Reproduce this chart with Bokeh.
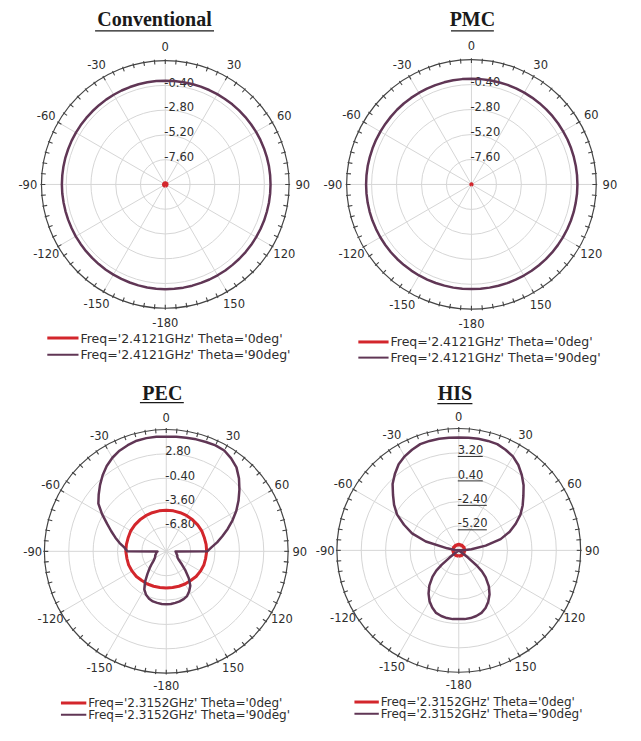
import math
from bokeh.plotting import figure
from bokeh.models import Range1d
from bokeh.embed import file_html
from bokeh.resources import INLINE
from bokeh.core.properties import value

# ---------------- data ----------------
TITLES = ["Conventional", "PMC", "PEC", "HIS"]

ANGLE_TICKS = [0, 30, 60, 90, 120, 150, 180, 210, 240, 270, 300, 330]
ANGLE_TICK_LABELS = ["0", "30", "60", "90", "120", "150", "-180", "-150", "-120", "-90", "-60", "-30"]

CONV_RINGS = ["-7.60", "-5.20", "-2.80", "-0.40"]
PMC_RINGS = ["-7.60", "-5.20", "-2.80", "-0.40"]
PEC_RINGS = ["-6.80", "-3.60", "-0.40", "2.80"]
HIS_RINGS = ["-5.20", "-2.40", "0.40", "3.20"]

CONV_LEGEND = ["Freq='2.4121GHz' Theta='0deg'", "Freq='2.4121GHz' Theta='90deg'"]
PMC_LEGEND = ["Freq='2.4121GHz' Theta='0deg'", "Freq='2.4121GHz' Theta='90deg'"]
PEC_LEGEND = ["Freq='2.3152GHz' Theta='0deg'", "Freq='2.3152GHz' Theta='90deg'"]
HIS_LEGEND = ["Freq='2.3152GHz' Theta='0deg'", "Freq='2.3152GHz' Theta='90deg'"]

# angle grids (deg, 0 = top, clockwise positive)
ANG5 = list(range(-180, 181, 5))
ANG30 = list(range(-180, 181, 30))
ANG10 = list(range(-180, 181, 10))

# Conventional, dB
CONV_DB_90 = [0.11, 0.11, 0.10, 0.09, 0.08, 0.07, 0.06, 0.05, 0.04, 0.03,
              0.03, 0.02, 0.02, 0.01, 0.01, 0.01, 0.01, 0.02, 0.02, 0.02,
              0.02, 0.02, 0.01, 0.01, 0.00, 0.00, -0.01, -0.01, -0.01, 0.00,
              0.00, 0.01, 0.01, 0.02, 0.02, 0.02, 0.02, 0.03, 0.03, 0.04,
              0.05, 0.06, 0.07, 0.08, 0.10, 0.11, 0.13, 0.14, 0.16, 0.17,
              0.18, 0.19, 0.20, 0.20, 0.20, 0.20, 0.20, 0.19, 0.19, 0.18,
              0.17, 0.17, 0.16, 0.15, 0.14, 0.14, 0.13, 0.13, 0.12, 0.12,
              0.12, 0.11, 0.11]
CONV_DB_0 = [-9.86, -9.86, -9.85, -9.85, -9.86, -9.86, -9.86, -9.86, -9.85, -9.85, -9.86, -9.86, -9.86]

# PMC, dB
PMC_DB_90 = [0.03, 0.03, 0.04, 0.04, 0.05, 0.06, 0.07, 0.08, 0.09, 0.10,
             0.11, 0.11, 0.12, 0.12, 0.13, 0.13, 0.13, 0.13, 0.13, 0.13,
             0.13, 0.12, 0.12, 0.12, 0.11, 0.11, 0.11, 0.12, 0.12, 0.12,
             0.12, 0.12, 0.13, 0.13, 0.13, 0.13, 0.13, 0.13, 0.14, 0.14,
             0.15, 0.15, 0.16, 0.16, 0.17, 0.17, 0.18, 0.18, 0.18, 0.19,
             0.19, 0.19, 0.19, 0.19, 0.19, 0.19, 0.18, 0.18, 0.17, 0.16,
             0.15, 0.14, 0.13, 0.12, 0.10, 0.09, 0.08, 0.07, 0.06, 0.05,
             0.04, 0.04, 0.03]
PMC_DB_0 = [-9.94, -9.94, -9.94, -9.94, -9.94, -9.94, -9.94, -9.94, -9.94, -9.94, -9.94, -9.94, -9.94]

# PEC, dB
PEC_ANG_90 = [-180, -175, -170, -165, -160, -155, -150, -145, -140, -135, -130, -125, -120,
              -115, -110, -105, -100, -95, -91, -90, -85, -80, -75, -70, -65, -60, -55,
              -50, -45, -40, -35, -30, -25, -20, -15, -10, -5, 0, 5, 10, 15, 20, 25, 30,
              35, 40, 45, 50, 55, 60, 65, 70, 75, 80, 85, 90, 91, 95, 100, 105, 110, 115,
              120, 125, 130, 135, 140, 145, 150, 155, 160, 165, 170, 175, 180]
PEC_DB_90 = [-3.09, -3.09, -3.15, -3.22, -3.41, -3.73, -4.24, -5.14, -6.16, -6.93, -7.57, -8.02, -8.27,
             -8.40, -8.46, -8.59, -8.66, -8.72, -8.85, -4.88, -4.50, -3.79, -3.09, -2.32, -1.42, -0.27, 0.88,
             1.58, 2.29, 2.99, 3.63, 4.14, 4.53, 4.78, 4.98, 5.04, 5.04, 4.98, 5.04, 5.10, 5.17, 5.23, 5.30, 5.23,
             4.85, 4.34, 3.50, 2.54, 1.58, 0.62, -0.40, -1.42, -2.38, -3.22, -4.05, -4.62, -8.78, -8.72, -8.66,
             -8.59, -8.46, -8.40,
             -8.27, -7.95, -7.31, -6.42, -5.39, -4.50, -3.98, -3.54, -3.34, -3.22, -3.15, -3.09, -3.09]
PEC_DB_0 = [-5.20, -5.20, -5.14, -5.07, -5.01, -4.88, -4.82, -4.75, -4.75, -4.69, -4.69, -4.69, -4.62,
            -4.62, -4.62, -4.62, -4.62, -4.62, -4.62, -4.62, -4.62, -4.62, -4.62, -4.62, -4.62, -4.69,
            -4.69, -4.69, -4.75, -4.75, -4.82, -4.88, -5.01, -5.07, -5.14, -5.20, -5.20]

# HIS, dB
HIS_ANG_90 = [-180, -175, -170, -165, -160, -155, -150, -145, -140, -135, -132, -130, -128, -126,
              -120, -110, -100, -90, -85, -80, -75, -70, -65, -60, -55, -50, -45, -40, -35, -30,
              -25, -20, -15, -10, -5, 0, 5, 10, 15, 20, 25, 30, 35, 40, 45, 50, 55, 60, 65, 70,
              75, 80, 85, 88, 90, 100, 110, 120, 126, 128, 130, 132, 135, 140, 145, 150, 155,
              160, 165, 170, 175, 180]
HIS_DB_90 = [-0.13, -0.10, -0.13, -0.22, -0.38, -0.78, -1.28, -1.95, -2.74, -3.74, -4.53, -5.42, -6.66, -7.78,
             -9.0, -9.5, -9.5, -9.0, -7.55, -6.66, -4.08, -2.29, -1.06, 0.18, 1.07, 1.86, 2.75, 3.42, 4.04, 4.43,
             4.71, 4.94, 4.97, 4.97, 4.94, 4.91, 4.94, 4.97, 4.97, 4.94, 4.71, 4.43, 3.93, 3.26, 2.53, 1.69, 0.96,
             0.18, -0.78, -1.78,
             -3.02, -4.86, -6.54, -7.44, -9.0, -9.5, -9.5, -9.0, -7.78, -6.66, -5.31, -4.42, -3.63, -2.62, -1.84,
             -1.22, -0.72,
             -0.38, -0.22, -0.13, -0.10, -0.13]
HIS_DB_0 = [-7.33, -7.33, -7.34, -7.33, -7.32, -7.33, -7.33, -7.33, -7.32, -7.33, -7.34, -7.33, -7.33]

# ---------------- styling / layout ----------------
PURPLE = "#603655"
RED = "#d3262c"
RING_C = "#d6d6d6"
OUTER_C = "#444444"
TXT_C = "#2e2e2e"
FONT = "DejaVu Sans"

PANELS = [
    dict(title=TITLES[0], cx=169, cy=188, R=127, vmin=-10.0, vmax=2.0, rings=CONV_RINGS,
         title_xy=(158, 19), ul=(97, 219, 31), leg_x=(48, 80), leg_y=(345, 362), legend=CONV_LEGEND,
         leg_fs="12.5px", red=(ANG30, CONV_DB_0, 3.6), purple=(ANG5, CONV_DB_90), ul_rings=False, lab_off=14),
    dict(title=TITLES[1], cx=483, cy=188, R=128, vmin=-10.0, vmax=2.0, rings=PMC_RINGS,
         title_xy=(484, 19), ul=(462, 506, 31), leg_x=(367, 398), leg_y=(349, 365), legend=PMC_LEGEND,
         leg_fs="12.5px", red=(ANG30, PMC_DB_0, 3.0), purple=(ANG5, PMC_DB_90), ul_rings=False, lab_off=14),
    dict(title=TITLES[2], cx=170, cy=563, R=125, vmin=-10.0, vmax=6.0, rings=PEC_RINGS,
         title_xy=(166, 401), ul=(143, 188, 411), leg_x=(62, 88), leg_y=(718, 730), legend=PEC_LEGEND,
         leg_fs="12px", red=(ANG10, PEC_DB_0, 3.0), purple=(PEC_ANG_90, PEC_DB_90), ul_rings=False, lab_off=12),
    dict(title=TITLES[3], cx=470, cy=562, R=125, vmin=-8.0, vmax=6.0, rings=HIS_RINGS,
         title_xy=(466, 401), ul=(448, 484, 412), leg_x=(363, 388), leg_y=(717, 729), legend=HIS_LEGEND,
         leg_fs="12px", red=(ANG30, HIS_DB_0, 3.4), purple=(HIS_ANG_90, HIS_DB_90), ul_rings=True, lab_off=12),
]

# the whole reference sheet (641 x 741) is mapped onto the figure
W, H = 625, 725
p = figure(width=W, height=H, x_range=Range1d(0, 641), y_range=Range1d(741, 0),
           output_backend="svg", toolbar_location=None, min_border=0,
           x_axis_location=None, y_axis_location=None)
p.grid.visible = False
p.outline_line_color = None
p.background_fill_color = "white"
p.border_fill_color = "white"


def to_xy(pan, angles, vals):
    xs, ys = [], []
    span = pan["vmax"] - pan["vmin"]
    for a, v in zip(angles, vals):
        r = max(0.0, (v - pan["vmin"]) / span) * pan["R"]
        t = math.radians(a)
        xs.append(pan["cx"] + r * math.sin(t))
        ys.append(pan["cy"] - r * math.cos(t))
    return xs, ys


def text_w(s, size):
    w = {"-": 0.361, ".": 0.318}
    return sum(w.get(c, 0.636) for c in s) * size


for pan in PANELS:
    cx, cy, R = pan["cx"], pan["cy"], pan["R"]
    # spokes
    x0, y0, x1, y1 = [], [], [], []
    for a in range(0, 360, 30):
        t = math.radians(a)
        x0.append(cx); y0.append(cy)
        x1.append(cx + R * math.sin(t)); y1.append(cy - R * math.cos(t))
    p.segment(x0=x0, y0=y0, x1=x1, y1=y1, line_color=RING_C, line_width=1)
    # rings
    p.circle(x=[cx] * 4, y=[cy] * 4, radius=[R * k / 5 for k in range(1, 5)],
             fill_color=None, line_color=RING_C, line_width=1)
    # outer circle and ticks
    p.circle(x=[cx], y=[cy], radius=[R], fill_color=None, line_color=OUTER_C, line_width=1.2)
    tx0, ty0, tx1, ty1 = [], [], [], []
    for a in range(0, 360, 5):
        t = math.radians(a)
        tx0.append(cx + (R - 4) * math.sin(t)); ty0.append(cy - (R - 4) * math.cos(t))
        tx1.append(cx + (R + 1) * math.sin(t)); ty1.append(cy - (R + 1) * math.cos(t))
    p.segment(x0=tx0, y0=ty0, x1=tx1, y1=ty1, line_color=OUTER_C, line_width=1.1)
    # angle labels
    rl = R + pan["lab_off"]
    lx = [cx + rl * math.sin(math.radians(a)) for a in ANGLE_TICKS]
    ly = [cy - rl * math.cos(math.radians(a)) for a in ANGLE_TICKS]
    p.text(x=lx, y=ly, text=ANGLE_TICK_LABELS, text_font=value(FONT), text_font_size="11.5px",
           text_color=TXT_C, text_align="center", text_baseline="middle")
    # ring labels
    rx = [cx - 1] * 4
    ry = [cy - (R * k / 5 + 3) for k in range(1, 5)]
    p.text(x=rx, y=ry, text=pan["rings"], text_font=value(FONT), text_font_size="11.5px",
           text_color=TXT_C, text_align="left", text_baseline="middle")
    if pan["ul_rings"]:
        p.segment(x0=rx, y0=[y + 7 for y in ry],
                  x1=[x + text_w(s, 11.5) for x, s in zip(rx, pan["rings"])], y1=[y + 7 for y in ry],
                  line_color=TXT_C, line_width=1)
    # traces
    ra, rv, rw = pan["red"]
    xs, ys = to_xy(pan, ra, rv)
    p.line(xs, ys, line_color=RED, line_width=rw, line_join="round")
    pa, pv = pan["purple"]
    xs, ys = to_xy(pan, pa, pv)
    p.line(xs, ys, line_color=PURPLE, line_width=2.5, line_join="round")
    # title with underline
    p.text(x=[pan["title_xy"][0]], y=[pan["title_xy"][1]], text=[pan["title"]],
           text_font=value("Liberation Serif"), text_font_style="bold", text_font_size="20px",
           text_color="#1a1a1a", text_align="center", text_baseline="middle")
    ux0, ux1, uy = pan["ul"]
    p.segment(x0=[ux0], y0=[uy], x1=[ux1], y1=[uy], line_color="#1a1a1a", line_width=1.3)
    # legend
    lx0, lx1 = pan["leg_x"]
    y_a, y_b = pan["leg_y"]
    p.segment(x0=[lx0], y0=[y_a], x1=[lx1], y1=[y_a], line_color=RED, line_width=3)
    p.segment(x0=[lx0], y0=[y_b], x1=[lx1], y1=[y_b], line_color=PURPLE, line_width=2)
    p.text(x=[lx1 + 2, lx1 + 2], y=[y_a, y_b], text=pan["legend"], text_font=value(FONT),
           text_font_size=pan["leg_fs"], text_color=TXT_C, text_align="left", text_baseline="middle")

open("out.html", "w").write(file_html(p, INLINE))
